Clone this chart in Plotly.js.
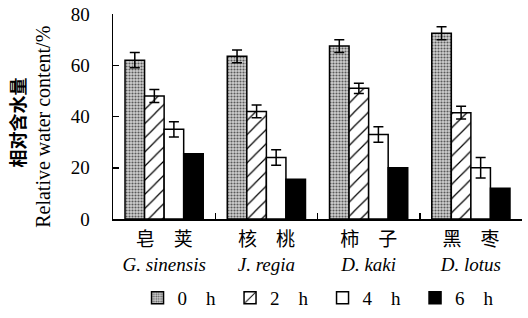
<!DOCTYPE html>
<html><head><meta charset="utf-8">
<script src="https://cdn.plot.ly/plotly-3.0.1.min.js"></script>
<style>html,body{margin:0;padding:0;background:#fff}</style>
</head><body>
<div id="chart" style="width:528px;height:318px"></div>
<script>
const categories = ["皂\u3000荚<br><i>G. sinensis</i>", "核\u3000桃<br><i>J. regia</i>", "柿\u3000子<br><i>D. kaki</i>", "黑\u3000枣<br><i>D. lotus</i>"];
const seriesNames = ["0\u2002\u2002h", "2\u2002\u2002h", "4\u2002\u2002h", "6\u2002\u2002h"];
const v0h = [62, 63.5, 67.5, 72.5];
const v2h = [48, 42, 51, 41.5];
const v4h = [35, 24, 33, 20];
const v6h = [25.5, 15.5, 20, 12];
const e0h = [3, 2.5, 2.5, 2.5];
const e2h = [2.5, 2.5, 2, 2.5];
const e4h = [3, 3, 3, 4];
const yTicks = [0, 20, 40, 60, 80];
const yTitleCN = "相对含水量";
const yTitleEN = "Relative water content/%";

const FONT = "Liberation Serif, Times New Roman, Noto Sans CJK SC, serif";
const line = {color: "black", width: 1.5};
function eb(arr){ return {type: "data", array: arr, visible: true, color: "black", thickness: 1.5, width: 5}; }
const pad = "\u00a0\u00a0";

const traces = [
  {type: "bar", name: seriesNames[0] + pad, x: categories, y: v0h, error_y: eb(e0h),
   marker: {color: "#c8c8c8", line: line, pattern: {shape: ".", fgcolor: "#5a5a5a", bgcolor: "#d0d0d0", size: 3, solidity: 0.4}}},
  {type: "bar", name: seriesNames[1] + pad, x: categories, y: v2h, error_y: eb(e2h),
   marker: {color: "white", line: line, pattern: {shape: "/", fgcolor: "black", bgcolor: "white", size: 10, solidity: 0.12}}},
  {type: "bar", name: seriesNames[2] + pad, x: categories, y: v4h, error_y: eb(e4h),
   marker: {color: "white", line: line}},
  {type: "bar", name: seriesNames[3], x: categories, y: v6h,
   marker: {color: "black", line: line}}
];

const layout = {
  width: 528, height: 318,
  margin: {l: 113, r: 6, t: 14, b: 99, autoexpand: false},
  paper_bgcolor: "white", plot_bgcolor: "white",
  font: {family: FONT, size: 19, color: "black"},
  barmode: "group", bargap: 0.235, bargroupgap: 0,
  showlegend: true,
  legend: {orientation: "h", x: 0.06, xanchor: "left", y: -0.385, yanchor: "middle",
    font: {family: FONT, size: 19}, itemwidth: 30, traceorder: "normal", tracegroupgap: 0},
  xaxis: {type: "category", showline: true, linecolor: "black", linewidth: 1.5,
    ticks: "inside", tickson: "boundaries", ticklen: 6, tickwidth: 1.5, tickcolor: "black",
    showgrid: false, zeroline: false, ticklabelstandoff: 3,
    tickfont: {family: FONT, size: 19}},
  yaxis: {range: [0, 80], tickvals: yTicks, ticktext: yTicks.map(String),
    showline: true, linecolor: "black", linewidth: 1.5,
    ticks: "inside", ticklen: 6, tickwidth: 1.5, tickcolor: "black",
    showgrid: false, zeroline: false, ticklabelstandoff: 18,
    tickfont: {family: FONT, size: 19}},
  annotations: [
    {text: "<b>" + yTitleCN + "</b>", xref: "paper", yref: "paper", x: -0.235, y: 0.47,
     xanchor: "center", yanchor: "middle", textangle: -90, showarrow: false,
     font: {family: "Noto Sans CJK SC, sans-serif", size: 18, color: "black"}},
    {text: yTitleEN, xref: "paper", yref: "paper", x: -0.171, y: 0.45,
     xanchor: "center", yanchor: "middle", textangle: -90, showarrow: false,
     font: {family: FONT, size: 20, color: "black"}}
  ]
};
Plotly.newPlot("chart", traces, layout, {staticPlot: true, displayModeBar: false});
</script>
</body></html>
